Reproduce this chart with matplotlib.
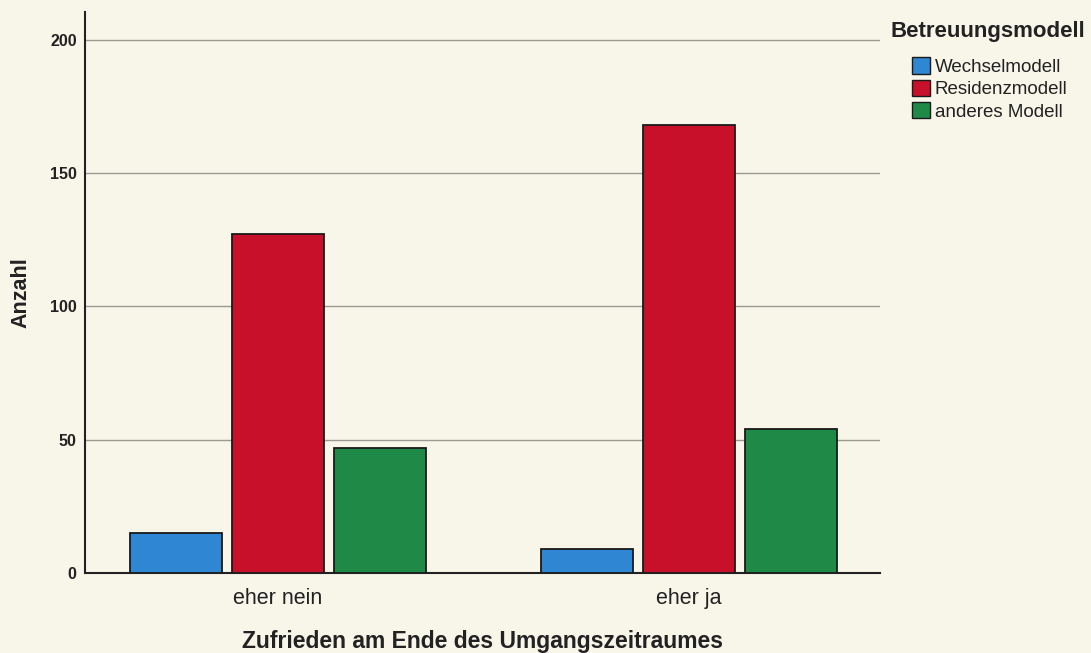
import numpy as np
import matplotlib.pyplot as plt
from matplotlib.patches import Patch

plt.rcParams['font.family'] = ['Liberation Sans', 'DejaVu Sans']

categories = ["eher nein", "eher ja"]
series = ["Wechselmodell", "Residenzmodell", "anderes Modell"]
wechsel = [15, 9]
residenz = [127, 168]
anderes = [47, 54]
yticks = [0, 50, 100, 150, 200]

colors = ["#2f86d2", "#c8102a", "#1f8a47"]
bg = "#f8f5e9"

fig = plt.figure(figsize=(10.91, 6.53), dpi=100, facecolor=bg)
ax = fig.add_axes([0.0779, 0.1225, 0.7287, 0.8591], facecolor=bg)

x = np.arange(len(categories))
step = 0.248
width = 0.2236
for i, (vals, c) in enumerate(zip([wechsel, residenz, anderes], colors)):
    ax.bar(x + (i - 1) * step, vals, width, color=c, edgecolor="#1a1a1a",
           linewidth=1.3, zorder=3)

ax.set_xlim(-0.468, 1.464)
ax.set_ylim(0, 210.4)
ax.set_yticks(yticks)
ax.set_yticklabels([str(t) for t in yticks], fontsize=11.5, fontweight="bold",
                   color="#222222")
ax.set_xticks(x)
ax.set_xticklabels(categories, fontsize=15.5, color="#222222")
ax.tick_params(axis="both", length=0)
ax.tick_params(axis="y", pad=6)
ax.tick_params(axis="x", pad=11)
ax.yaxis.grid(True, color="#9a9a90", linewidth=1.0, zorder=0)
ax.set_axisbelow(True)
for s in ["top", "right"]:
    ax.spines[s].set_visible(False)
for s in ["left", "bottom"]:
    ax.spines[s].set_color("#222222")
    ax.spines[s].set_linewidth(1.5)

ax.set_ylabel("Anzahl", fontsize=15.5, fontweight="bold", color="#222222",
              labelpad=13)
ax.set_xlabel("Zufrieden am Ende des Umgangszeitraumes", fontsize=16.5,
              fontweight="bold", color="#222222", labelpad=15)

fig.text(0.816, 0.951, "Betreuungsmodell", fontsize=16, fontweight="bold",
         color="#222222", va="center", ha="left")
handles = [Patch(facecolor=c, edgecolor="#1a1a1a", linewidth=1.0) for c in colors]
leg = fig.legend(handles, series, loc="upper left",
                 bbox_to_anchor=(0.836, 0.912), frameon=False,
                 fontsize=13.5, handlelength=0.95, handleheight=0.95,
                 handletextpad=0.25, labelspacing=0.2, borderaxespad=0,
                 borderpad=0)
for t in leg.get_texts():
    t.set_color("#222222")

fig.savefig("out.png", dpi=100, facecolor=bg)
